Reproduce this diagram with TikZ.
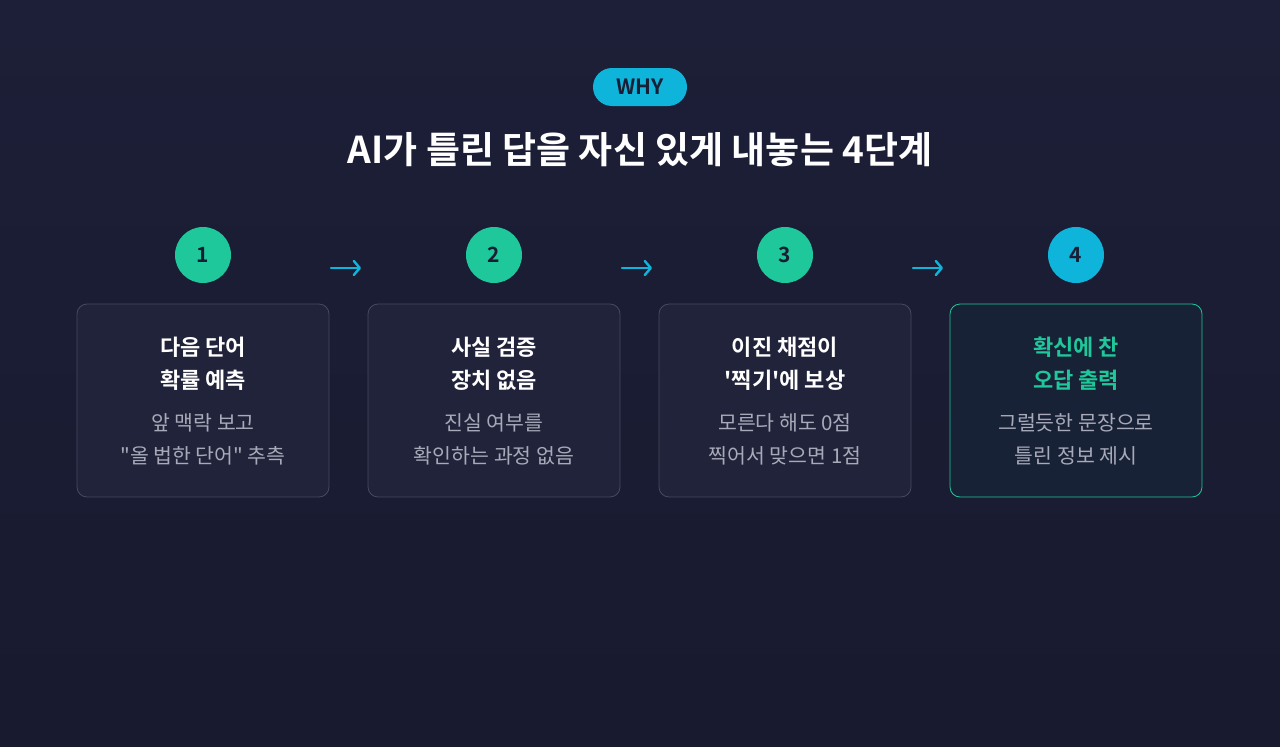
\documentclass[tikz,border=0pt]{standalone}
\usepackage{fontspec}
\newfontfamily\krfont{Noto Sans CJK KR}[BoldFont={* Bold}]
\usepackage{tikz}
\usetikzlibrary{arrows.meta}
\usepackage{xcolor}

\definecolor{bgtop}{HTML}{1C1F37}
\definecolor{bgbot}{HTML}{181A2F}
\definecolor{cardfill}{HTML}{21233A}
\definecolor{cardline}{HTML}{46495F}
\definecolor{hotfill}{HTML}{182236}
\definecolor{mint}{HTML}{1FC89A}
\definecolor{sky}{HTML}{0FB4DA}
\definecolor{ink}{HTML}{1A1D33}
\definecolor{soft}{HTML}{A8AABA}

\begin{document}
\krfont
\begin{tikzpicture}[x=1pt,y=-1pt,
  card/.style={draw=cardline, fill=cardfill, line width=0.8pt, rounded corners=10pt,
    minimum width=252pt, minimum height=193pt, inner sep=0pt},
  hotcard/.style={card, draw=mint, fill=hotfill},
  badge/.style={circle, fill=mint, minimum size=56pt, inner sep=0pt,
    font=\krfont\fontsize{21}{21}\selectfont\bfseries, text=ink},
  headtxt/.style={align=center, text=white, font=\krfont\fontsize{22}{33}\selectfont\bfseries},
  subtxt/.style={align=center, text=soft, font=\krfont\fontsize{20.5}{33}\selectfont},
  stepto/.style={draw=sky, line width=2.4pt, line cap=round,
    -{Straight Barb[length=6pt,width=14pt,round]}}]
\useasboundingbox (0,0) rectangle (1280,747);
\shade[top color=bgtop, bottom color=bgbot] (0,0) rectangle (1280,747);

% header
\node (why) [fill=sky, rounded corners=19pt, minimum width=94pt, minimum height=38pt,
  inner sep=0pt, text=ink, font=\krfont\fontsize{21}{21}\selectfont\bfseries] at (640,87) {WHY};
\node (title) [text=white, font=\krfont\fontsize{37}{37}\selectfont\bfseries] at (640,150)
  {AI가 틀린 답을 자신 있게 내놓는 4단계};

% step badges
\node (n1) [badge] at (203,255) {1};
\node (n2) [badge] at (494,255) {2};
\node (n3) [badge] at (785,255) {3};
\node (n4) [badge, fill=sky] at (1076,255) {4};

% arrows
\coordinate (a1s) at (331,268); \coordinate (a1e) at (361,268);
\coordinate (a2s) at (622,268); \coordinate (a2e) at (652,268);
\coordinate (a3s) at (913,268); \coordinate (a3e) at (943,268);
\draw[stepto] (a1s) -- (a1e);
\draw[stepto] (a2s) -- (a2e);
\draw[stepto] (a3s) -- (a3e);

% cards
\node (c1) [card] at (203,400.5) {};
\node (c2) [card] at (494,400.5) {};
\node (c3) [card] at (785,400.5) {};
\node (c4) [hotcard] at (1076,400.5) {};

\node (h1) [headtxt] at (203,363.5) {다음 단어\\확률 예측};
\node (h2) [headtxt] at (494,363.5) {사실 검증\\장치 없음};
\node (h3) [headtxt] at (785,363.5) {이진 채점이\\'찍기'에 보상};
\node (h4) [headtxt, text=mint] at (1076,363.5) {확신에 찬\\오답 출력};

\node (s1) [subtxt] at (203,439.5) {앞 맥락 보고\\"올 법한 단어" 추측};
\node (s2) [subtxt] at (494,439.5) {진실 여부를\\확인하는 과정 없음};
\node (s3) [subtxt] at (785,439.5) {모른다 해도 0점\\찍어서 맞으면 1점};
\node (s4) [subtxt] at (1076,439.5) {그럴듯한 문장으로\\틀린 정보 제시};
\end{tikzpicture}
\end{document}
